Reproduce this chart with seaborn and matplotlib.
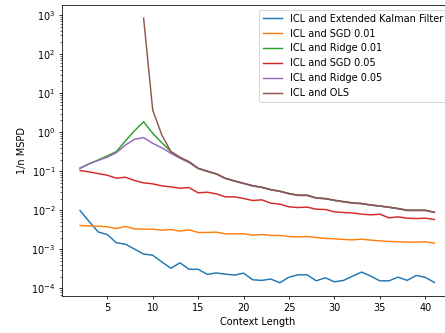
import numpy as np
import pandas as pd
import matplotlib
matplotlib.use("Agg")
import matplotlib.pyplot as plt
import seaborn as sns

context = list(range(2, 42))

ekf = [0.0099, 0.0052, 0.0028, 0.0024, 0.00148, 0.00136, 0.00102, 0.00076, 0.00071, 0.00048,
       0.00033, 0.000455, 0.00031, 0.00031, 0.00023, 0.00025, 0.000233, 0.00022, 0.000247, 0.000167,
       0.000161, 0.000174, 0.00014, 0.000195, 0.000224, 0.000224, 0.000157, 0.000188, 0.000148, 0.000161,
       0.000207, 0.000263, 0.000207, 0.000157, 0.000157, 0.000195, 0.000161, 0.000216, 0.000192, 0.000143]

sgd_001 = [0.0041, 0.0040, 0.00394, 0.00379, 0.00343, 0.00386, 0.00336, 0.0033, 0.0033, 0.00311,
           0.00324, 0.00294, 0.00318, 0.00272, 0.00272, 0.00277, 0.00251, 0.00251, 0.00251, 0.00232,
           0.00241, 0.00228, 0.00228, 0.00214, 0.0021, 0.00214, 0.00202, 0.00191, 0.00187, 0.0018,
           0.00176, 0.00183, 0.00173, 0.00166, 0.0016, 0.00157, 0.00154, 0.00154, 0.00157, 0.00145]

ridge_001 = [0.12, 0.155, 0.195, 0.248, 0.32, 0.6, 1.1, 1.85, 0.94, 0.54,
             0.32, 0.225, 0.172, 0.118, 0.099, 0.085, 0.066, 0.056, 0.049, 0.0425,
             0.0388, 0.0338, 0.0307, 0.0268, 0.0243, 0.0243, 0.0207, 0.0199, 0.018, 0.0166,
             0.0155, 0.0149, 0.0137, 0.0129, 0.012, 0.0111, 0.01, 0.01, 0.01, 0.0089]

sgd_005 = [0.1045, 0.0966, 0.0875, 0.0794, 0.0665, 0.0706, 0.058, 0.0506, 0.0477, 0.0424,
           0.0399, 0.0369, 0.0384, 0.0281, 0.0292, 0.0264, 0.0222, 0.0222, 0.0201, 0.0179,
           0.0186, 0.0153, 0.0144, 0.0123, 0.0118, 0.0121, 0.0107, 0.0105, 0.00916, 0.00881,
           0.0086, 0.00798, 0.00768, 0.00798, 0.00644, 0.00683, 0.00631, 0.00618, 0.00631, 0.00583]

ridge_005 = [0.12, 0.155, 0.19, 0.23, 0.30, 0.47, 0.66, 0.73, 0.52, 0.40,
             0.29, 0.216, 0.167, 0.118, 0.102, 0.086, 0.065, 0.056, 0.0485, 0.042,
             0.0385, 0.0335, 0.0305, 0.0265, 0.024, 0.024, 0.0205, 0.0198, 0.0179, 0.0165,
             0.0153, 0.0148, 0.0136, 0.0128, 0.0119, 0.011, 0.0099, 0.0099, 0.0099, 0.0088]

ols_context = list(range(9, 42))
ols = [830, 3.7, 0.85, 0.32, 0.23, 0.177, 0.12, 0.10, 0.086, 0.0665,
       0.057, 0.0495, 0.043, 0.0392, 0.0341, 0.031, 0.027, 0.0245, 0.0245, 0.0209,
       0.0201, 0.0182, 0.0168, 0.0156, 0.015, 0.0138, 0.013, 0.0121, 0.0112, 0.0101,
       0.0101, 0.0101, 0.009]

labels = ["ICL and Extended Kalman Filter", "ICL and SGD 0.01", "ICL and Ridge 0.01",
          "ICL and SGD 0.05", "ICL and Ridge 0.05", "ICL and OLS"]

y_ticks = [1e-4, 1e-3, 1e-2, 1e-1, 1e0, 1e1, 1e2, 1e3]
x_ticks = [5, 10, 15, 20, 25, 30, 35, 40]

frames = []
for lab, xs, ys in [(labels[0], context, ekf), (labels[1], context, sgd_001),
                    (labels[2], context, ridge_001), (labels[3], context, sgd_005),
                    (labels[4], context, ridge_005), (labels[5], ols_context, ols)]:
    frames.append(pd.DataFrame({"Context Length": xs, "1/n MSPD": ys, "method": lab}))
df = pd.concat(frames, ignore_index=True)

fig = plt.figure(figsize=(446 / 70, 333 / 70), dpi=70)
ax = fig.add_axes([62.3 / 446, 1 - 296 / 333, (452.1 - 62.3) / 446, (296 - 5) / 333])

sns.lineplot(data=df, x="Context Length", y="1/n MSPD", hue="method",
             hue_order=labels, palette="tab10", ax=ax, linewidth=1.5)
ax.set_yscale("log")
ax.autoscale_view()
xlim = ax.get_xlim()
ylim = ax.get_ylim()
ax.set_yticks(y_ticks)
ax.set_xticks(x_ticks)
ax.set_xlim(xlim)
ax.set_ylim(ylim)
handles, labs = ax.get_legend_handles_labels()
ax.legend(handles, labs, loc="upper right")
ax.set_xlabel("Context Length")
ax.set_ylabel("1/n MSPD")

fig.savefig("out.png", dpi=70)
